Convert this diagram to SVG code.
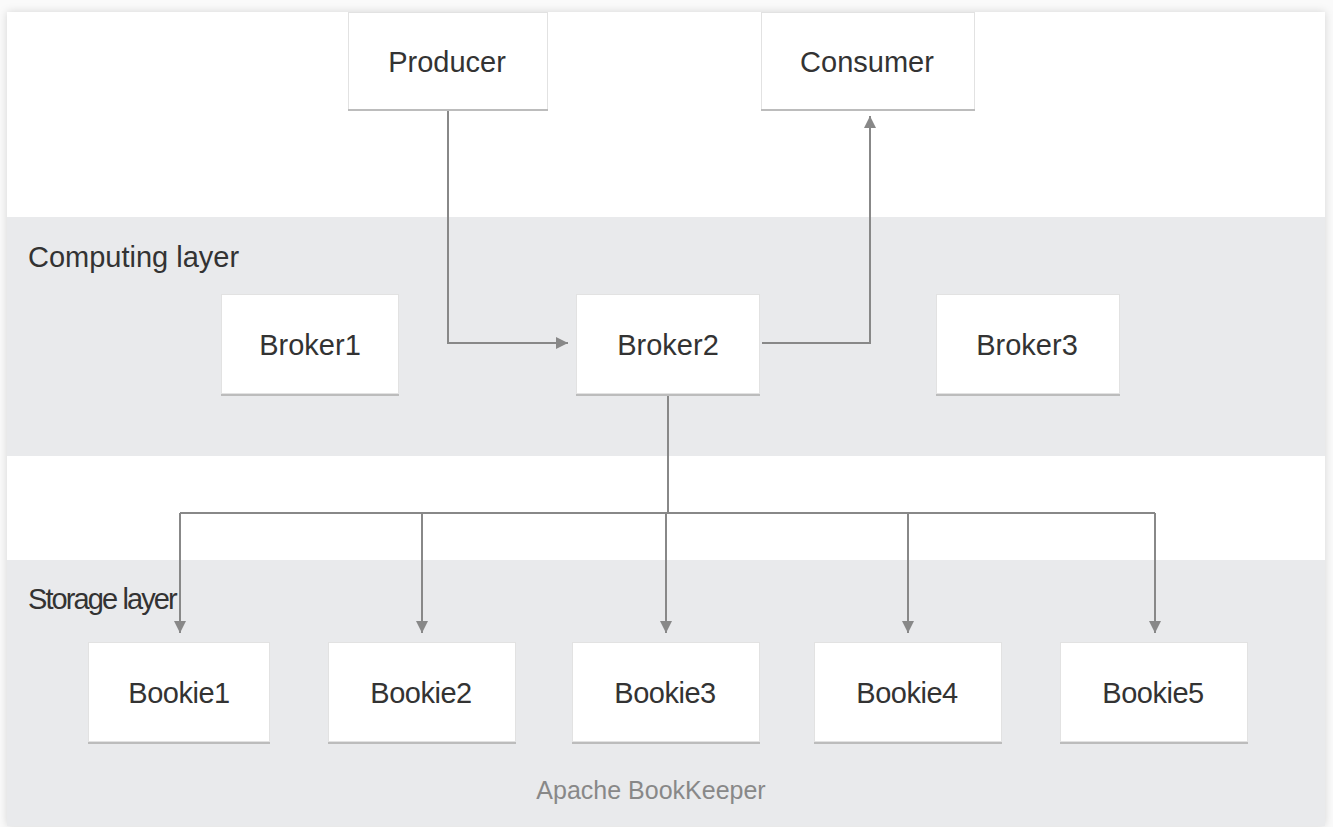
<svg xmlns="http://www.w3.org/2000/svg" width="1333" height="827" viewBox="0 0 1333 827">
<defs>
<filter id="sh" x="-5%" y="-5%" width="110%" height="110%">
<feDropShadow dx="0" dy="0" stdDeviation="4" flood-color="#000" flood-opacity="0.15"/>
</filter>
<marker id="ah" viewBox="0 0 12 12" refX="12" refY="6" markerWidth="12" markerHeight="12" markerUnits="userSpaceOnUse" orient="auto">
<path d="M0,0 L12,6 L0,12 Z" fill="#888"/>
</marker>
<style>
.box{fill:#fff;stroke:#e2e2e2;stroke-width:1}
.bot{stroke:#bcbcbc;stroke-width:2}
.lbl{font-family:"Liberation Sans",Arial,sans-serif;font-size:29px;fill:#333;text-anchor:middle}
.bk{letter-spacing:-0.5px}
.layer{font-family:"Liberation Sans",Arial,sans-serif;font-size:29px;fill:#333}
.con{fill:none;stroke:#888;stroke-width:2}
</style>
</defs>
<rect x="0" y="0" width="1333" height="827" fill="#fafafa"/>
<g id="card">
<rect x="7" y="12" width="1318" height="814" fill="#fff" filter="url(#sh)"/>
<rect x="7" y="217" width="1318" height="239" fill="#e9eaec"/>
<rect x="7" y="560" width="1318" height="266" fill="#e9eaec"/>
<text class="layer" x="28" y="267">Computing layer</text>
<text class="layer" x="28" y="609" letter-spacing="-1.9">Storage layer</text>
<text x="651" y="799" font-family="'Liberation Sans',Arial,sans-serif" font-size="25" fill="#888" text-anchor="middle">Apache BookKeeper</text>
</g>
<g id="connectors">
<polyline class="con" points="448,110 448,343 568,343" marker-end="url(#ah)"/>
<polyline class="con" points="762,343 870,343 870,116" marker-end="url(#ah)"/>
<polyline class="con" points="668,396 668,513"/>
<polyline class="con" points="180,513 1155,513"/>
<line class="con" x1="180" y1="513" x2="180" y2="633" marker-end="url(#ah)"/>
<line class="con" x1="422" y1="513" x2="422" y2="633" marker-end="url(#ah)"/>
<line class="con" x1="666" y1="513" x2="666" y2="633" marker-end="url(#ah)"/>
<line class="con" x1="908" y1="513" x2="908" y2="633" marker-end="url(#ah)"/>
<line class="con" x1="1155" y1="513" x2="1155" y2="633" marker-end="url(#ah)"/>
</g>
<g id="producer"><rect class="box" x="348.5" y="12.5" width="199" height="97"/><line class="bot" x1="348" y1="110" x2="548" y2="110"/><text class="lbl" x="447" y="72">Producer</text></g>
<g id="consumer"><rect class="box" x="761.5" y="12.5" width="213" height="97"/><line class="bot" x1="761" y1="110" x2="975" y2="110"/><text class="lbl" x="867" y="72">Consumer</text></g>
<g id="broker1"><rect class="box" x="221.5" y="294.5" width="177" height="99"/><line class="bot" x1="221" y1="395" x2="399" y2="395"/><text class="lbl" x="310" y="355">Broker1</text></g>
<g id="broker2"><rect class="box" x="576.5" y="294.5" width="183" height="99"/><line class="bot" x1="576" y1="395" x2="760" y2="395"/><text class="lbl" x="668" y="355">Broker2</text></g>
<g id="broker3"><rect class="box" x="936.5" y="294.5" width="183" height="99"/><line class="bot" x1="936" y1="395" x2="1120" y2="395"/><text class="lbl" x="1027" y="355">Broker3</text></g>
<g id="bookie1"><rect class="box" x="88.5" y="642.5" width="181" height="99"/><line class="bot" x1="88" y1="743" x2="270" y2="743"/><text class="lbl bk" x="179" y="703">Bookie1</text></g>
<g id="bookie2"><rect class="box" x="328.5" y="642.5" width="187" height="99"/><line class="bot" x1="328" y1="743" x2="516" y2="743"/><text class="lbl bk" x="421" y="703">Bookie2</text></g>
<g id="bookie3"><rect class="box" x="572.5" y="642.5" width="187" height="99"/><line class="bot" x1="572" y1="743" x2="760" y2="743"/><text class="lbl bk" x="665" y="703">Bookie3</text></g>
<g id="bookie4"><rect class="box" x="814.5" y="642.5" width="187" height="99"/><line class="bot" x1="814" y1="743" x2="1002" y2="743"/><text class="lbl bk" x="907" y="703">Bookie4</text></g>
<g id="bookie5"><rect class="box" x="1060.5" y="642.5" width="187" height="99"/><line class="bot" x1="1060" y1="743" x2="1248" y2="743"/><text class="lbl bk" x="1153" y="703">Bookie5</text></g>
</svg>
